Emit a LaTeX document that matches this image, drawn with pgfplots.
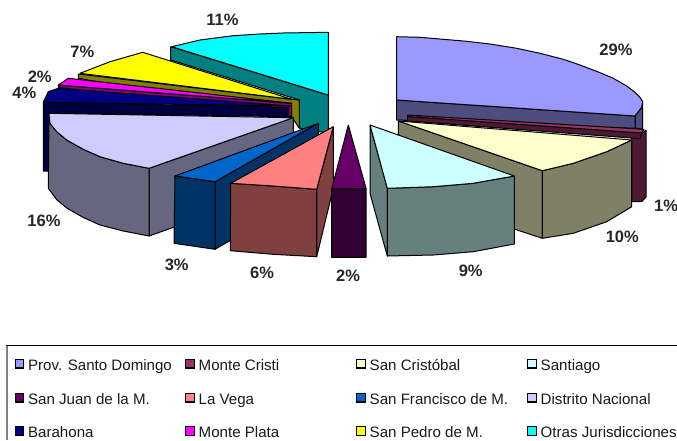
\documentclass[border=0pt]{standalone}
\usepackage{pgfplots}
\pgfplotsset{compat=1.18}
\usepackage{fontspec}
\setmainfont{Liberation Sans}
\definecolor{cA}{HTML}{9999FF}\definecolor{cAd}{HTML}{4D4D80}
\definecolor{cB}{HTML}{993366}\definecolor{cBd}{HTML}{4D1933}
\definecolor{cC}{HTML}{FFFFCC}\definecolor{cCd}{HTML}{808066}
\definecolor{cD}{HTML}{CCFFFF}\definecolor{cDd}{HTML}{668080}
\definecolor{cE}{HTML}{660066}\definecolor{cEd}{HTML}{330033}
\definecolor{cF}{HTML}{FF8080}\definecolor{cFd}{HTML}{804040}
\definecolor{cG}{HTML}{0066CC}\definecolor{cGd}{HTML}{003366}
\definecolor{cH}{HTML}{CCCCFF}\definecolor{cHd}{HTML}{666680}
\definecolor{cI}{HTML}{000080}\definecolor{cId}{HTML}{000040}
\definecolor{cJ}{HTML}{FF00FF}\definecolor{cJd}{HTML}{800080}
\definecolor{cK}{HTML}{FFFF00}\definecolor{cKd}{HTML}{808000}
\definecolor{cL}{HTML}{00FFFF}\definecolor{cLd}{HTML}{008080}
\pgfplotsset{face/.style={draw=black,line width=1pt,line join=round,fill=#1,mark=none}}
\newcommand{\pct}[3]{\node[font=\fontsize{16.5}{18}\selectfont\bfseries,text=black!85] at (axis cs:#1,#2) {#3};}
\newcommand{\legentry}[4]{%
  \addplot[only marks,mark=square*,mark size=4.2pt,mark options={fill=#3,draw=black,line width=1.3pt}] coordinates {(#1,#2)};
  \node[anchor=base west,inner sep=0pt,font=\fontsize{15.1}{17}\selectfont,text=black!90] at (axis cs:#1+8.5,#2+6.8) {#4};}
\begin{document}
\begin{tikzpicture}
\useasboundingbox (0,0) rectangle (677pt,440pt);
\begin{axis}[at={(0,0)},anchor=south west,width=677pt,height=440pt,scale only axis,xmin=0,xmax=677,ymin=0,ymax=440,y dir=reverse,axis lines=none,ticks=none]
% Otras
\addplot[face=cLd] coordinates {(170.7,46.7)(328.3,95)(328.3,133.3)(299.3,128)(299.3,100)(170.7,60)(170.7,46.7)};
\addplot[face=cL] coordinates {(328.3,32.3)(283,33)(260,34)(233.3,35.7)(200,40)(171.7,46.7)(328.3,95)(328.3,32.3)};
% San Pedro
\addplot[face=cKd] coordinates {(78.3,74)(291.7,99.3)(299.3,100)(299.3,128.3)(291.7,116.7)(78.3,78.3)(78.3,74)};
\addplot[face=cK] coordinates {(142.7,52.3)(110,61.7)(80,73.3)(291.7,99.3)(142.7,52.3)};
% Monte Plata
\addplot[face=cJd] coordinates {(58.3,85)(291.7,103.3)(291.7,116)(58.3,87.5)(58.3,85)};
\addplot[face=cJ] coordinates {(68.3,78.3)(58.3,85)(291.7,103.3)(68.3,78.3)};
% Barahona
\addplot[face=cId] coordinates {(43.3,102.3)(43.3,171)(50,171)(50,113)(288.3,116.7)(288.3,107.3)(43.3,102.3)};
\addplot[face=cI] coordinates {(58.3,88.3)(48.3,91.7)(43.3,102.3)(290,106)(58.3,88.3)};
% Distrito Nacional
\addplot[face=cHd] coordinates {(149,168.3)(293.3,117.7)(293.3,185)(149,236)(149,168.3)};
\addplot[face=cHd] coordinates {(49,113.3)(50,123.3)(56.7,131.7)(66.7,140)(83.3,149.3)(100,156.7)(123.3,163.3)(149,168.3)(149,236)(123.3,231)(100,225)(83.3,217.5)(66.7,208)(56.7,199.7)(48.3,188.3)(49,113.3)};
\addplot[face=cH] coordinates {(49,113.3)(50,123.3)(56.7,131.7)(66.7,140)(83.3,149.3)(100,156.7)(123.3,163.3)(149,168.3)(293.3,117.7)(49,113.3)};
% San Francisco
\addplot[face=cGd] coordinates {(215,181.7)(318.3,123.3)(318.3,190)(215,249.3)(215,181.7)};
\addplot[face=cGd] coordinates {(175,176)(215,181.7)(215,249.3)(174,243.3)(175,176)};
\addplot[face=cG] coordinates {(316.7,124)(215,181.7)(175,176)(316.7,124)};
% La Vega
\addplot[face=cFd] coordinates {(316.7,189.3)(333.3,126.7)(333.3,188)(316.7,256.7)(316.7,189.3)};
\addplot[face=cFd] coordinates {(230.7,183.3)(273,186)(316.7,189.3)(316.7,256.7)(273,254.3)(230.3,250.7)(230.7,183.3)};
\addplot[face=cF] coordinates {(333.3,126.7)(316.7,189.3)(273,186)(230.7,183.3)(333.3,126.7)};
% San Juan
\addplot[face=cEd] coordinates {(331.7,189)(366,188.3)(366,257.3)(331.7,257.3)(331.7,189)};
\addplot[face=cE] coordinates {(348.3,125)(366,188.3)(331.7,189)(348.3,125)};
% Prov. Santo Domingo
\addplot[face=cAd] coordinates {(642.7,101.7)(641.7,107.3)(635,116)(635,128)(642.7,129)(642.7,101.7)};
\addplot[face=cAd] coordinates {(396.7,100)(635,116)(635,128.3)(396.7,120)(396.7,100)};
\addplot[face=cA] coordinates {(396.7,36.7)(420,37.3)(440,39)(466.7,41.3)(490,44)(516.7,48.3)(540,53.3)(563.3,59.3)(580,65)(600,72.7)(613.3,78.3)(626.7,86)(635,92.3)(640,97.3)(642.7,101.7)(641.7,107.3)(635,116)(396.7,100)(396.7,36.7)};
% Monte Cristi
\addplot[face=cBd] coordinates {(631.7,138)(631.7,201.7)(641.7,201.7)(646,197)(646,130)(641.7,134)(631.7,138)};
\addplot[face=cBd] coordinates {(407.7,116)(641.7,133)(640,138.7)(407.7,121)(407.7,116)};
\addplot[face=cB] coordinates {(407.7,115)(644,129.3)(641.7,133)(407.7,116.5)(407.7,115)};
% San Cristobal
\addplot[face=cCd] coordinates {(398.3,121)(542.3,170.7)(542.3,238.3)(515,229.3)(398.3,135)(398.3,121)};
\addplot[face=cCd] coordinates {(542.3,170.7)(573.3,163.3)(606.7,151.7)(631.7,140)(631.7,206.7)(606.7,221.7)(573.3,233.3)(542.3,238.3)(542.3,170.7)};
\addplot[face=cC] coordinates {(398.3,121)(631.7,140)(606.7,151.7)(573.3,163.3)(542.3,170.7)(398.3,121)};
% Santiago
\addplot[face=cDd] coordinates {(370,125)(387.3,188.3)(387.3,256)(370,193.3)(370,125)};
\addplot[face=cDd] coordinates {(387.3,188.3)(433.3,186.7)(473.3,183.3)(514.3,176)(514.3,244)(473.3,251.7)(433.3,255)(387.3,256)(387.3,188.3)};
\addplot[face=cD] coordinates {(370,125)(514.3,176)(473.3,183.3)(433.3,186.7)(387.3,188.3)(370,125)};
% Percent labels
\pct{616}{50}{29\%}
\pct{666}{205.7}{1\%}
\pct{622.3}{237.3}{10\%}
\pct{470.7}{270.7}{9\%}
\pct{348}{276}{2\%}
\pct{262}{273.3}{6\%}
\pct{176.7}{265}{3\%}
\pct{44}{220.7}{16\%}
\pct{24.3}{92.7}{4\%}
\pct{39.7}{76.7}{2\%}
\pct{82.3}{51.7}{7\%}
\pct{222.5}{20}{11\%}
% Legend frame
\addplot[color=black!50,line width=1.4pt,mark=none] coordinates {(7,440)(7,345)};
\addplot[color=black,line width=1pt,mark=none] coordinates {(6,345)(677,345)};
% Legend
\legentry{19.4}{363.7}{cA}{Prov. Santo Domingo}
\legentry{190}{363.7}{cB}{Monte Cristi}
\legentry{361}{363.7}{cC}{San Cristóbal}
\legentry{532}{363.7}{cD}{Santiago}
\legentry{19.4}{397.7}{cE}{San Juan de la M.}
\legentry{190}{397.7}{cF}{La Vega}
\legentry{361}{397.7}{cG}{San Francisco de M.}
\legentry{532}{397.7}{cH}{Distrito Nacional}
\legentry{19.4}{431}{cI}{Barahona}
\legentry{190}{431}{cJ}{Monte Plata}
\legentry{361}{431}{cK}{San Pedro de M.}
\legentry{532}{431}{cL}{Otras Jurisdicciones}
\end{axis}
\end{tikzpicture}
\end{document}
